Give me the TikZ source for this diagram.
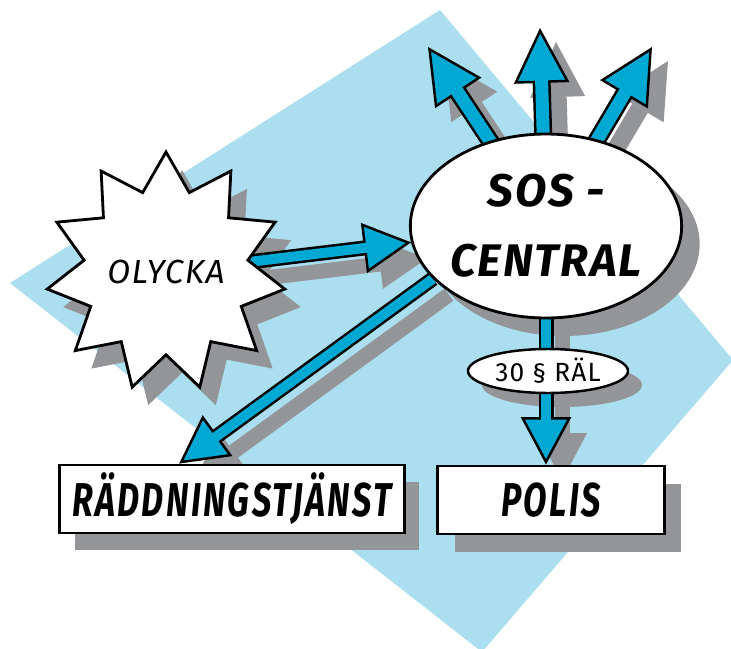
\documentclass[tikz,border=0pt]{standalone}
\usepackage{fontspec}
\newfontfamily\markerfont[LetterSpace=4]{Fira Sans}
\newfontfamily\narrowfont[FakeStretch=0.72, LetterSpace=5]{Fira Sans}
\usepackage{xcolor}
\usepackage{tikz}
\usetikzlibrary{shapes,arrows.meta,positioning,calc}

\definecolor{skyblue}{HTML}{ABDEEF}
\definecolor{arrowblue}{HTML}{00A9D3}
\definecolor{shadowgray}{HTML}{939598}

\pgfdeclarelayer{bg}
\pgfdeclarelayer{shade}
\pgfdeclarelayer{arrowlayer}
\pgfsetlayers{bg,shade,arrowlayer,main}

\begin{document}
\begin{tikzpicture}[
    x=0.02cm, y=-0.02cm,
    box/.style={rectangle, draw, line width=1.6pt, fill=white, minimum height=1.36cm, inner sep=0pt,
        font=\narrowfont\bfseries\itshape\fontsize{27}{30}\selectfont},
    burst/.style={star, star points=11, star point ratio=1.45, draw, line width=1.6pt, fill=white,
        minimum size=4.2cm, inner sep=0pt, font=\markerfont\itshape\fontsize{19}{20}\selectfont},
    bigoval/.style={ellipse, draw, line width=1.6pt, fill=white, inner sep=0pt, align=center,
        minimum width=5.24cm, minimum height=3.68cm,
        font=\markerfont\bfseries\itshape\fontsize{26}{40}\selectfont},
    lawoval/.style={ellipse, draw, line width=1.4pt, fill=white, inner sep=0pt,
        minimum width=3.2cm, minimum height=0.88cm, font=\markerfont\fontsize{15}{16}\selectfont},
    shadow/.style={fill=shadowgray, draw=none},
    thickarrow/.style={line width=0.36cm, black,
        -{Triangle[length=1.1cm, width=1.1cm, fill=arrowblue, line width=1.4pt]},
        postaction={draw=arrowblue, line width=0.26cm, -, shorten >=1.0cm}},
    thinarrow/.style={line width=0.3cm, black,
        -{Triangle[length=0.95cm, width=1.0cm, fill=arrowblue, line width=1.4pt]},
        postaction={draw=arrowblue, line width=0.2cm, -, shorten >=0.85cm}},
    thickshade/.style={line width=0.36cm, shadowgray,
        -{Triangle[length=1.1cm, width=1.1cm, line width=0pt]}, transform canvas={shift={(16,14)}}},
    thinshade/.style={line width=0.3cm, shadowgray,
        -{Triangle[length=0.95cm, width=1.0cm, line width=0pt]}, transform canvas={shift={(16,16)}}}
]
\useasboundingbox (0,0) rectangle (731,649);

% nodes
\node[bigoval] (sos) at (546,226) {SOS -\\CENTRAL};
\node[burst] (olycka) at (166,272) {OLYCKA};
\node[box, minimum width=6.9cm] (radd) at (232,499) {RÄDDNINGSTJÄNST};
\node[box, minimum width=4.54cm] (polis) at (551,500) {POLIS};
\node[lawoval] (ral) at (548,371) {30 § RÄL};

\coordinate (upleft) at (428,47);
\coordinate (upmid) at (540,28);
\coordinate (upright) at (652,47);
\coordinate (raddtip) at ($(radd.north west)!0.348!(radd.north east)$);

% background diamond
\begin{pgfonlayer}{bg}
\fill[skyblue] (440,10) -- (733,360) -- (482,652) -- (10,283) -- cycle;
\end{pgfonlayer}

% shadows
\begin{pgfonlayer}{shade}
\node[bigoval, shadow] (sosshadow) at ([shift={(18,18)}]sos.center) {\phantom{SOS -}\\\phantom{CENTRAL}};
\node[burst, shadow] (olyckashadow) at ([shift={(16,18)}]olycka.center) {\phantom{OLYCKA}};
\node[box, shadow, minimum width=6.9cm] (raddshadow) at ([shift={(15,17)}]radd.center) {\phantom{RÄDDNINGSTJÄNST}};
\node[box, shadow, minimum width=4.54cm] (polisshadow) at ([shift={(17,18)}]polis.center) {\phantom{POLIS}};
\node[lawoval, shadow] (ralshadow) at ([shift={(14,14)}]ral.center) {\phantom{30 § RÄL}};
\draw[thickshade] (sos.center) -- (upleft);
\draw[thickshade] (sos.center) -- (upmid);
\draw[thickshade] (sos.center) -- (upright);
\draw[thinshade] (olycka.center) -- (sos);
\draw[thinshade] (sos.205) -- (raddtip);
\draw[thinshade] (sos.center) -- (sos.center |- polis.north);
\end{pgfonlayer}

% arrows
\begin{pgfonlayer}{arrowlayer}
\draw[thickarrow] (sos.center) -- (upleft);
\draw[thickarrow] (sos.center) -- (upmid);
\draw[thickarrow] (sos.center) -- (upright);
\draw[thinarrow] (olycka.center) -- (sos);
\draw[thinarrow] (sos.205) -- (raddtip);
\draw[thinarrow] (sos.center) -- (sos.center |- polis.north);
\end{pgfonlayer}
\end{tikzpicture}
\end{document}
